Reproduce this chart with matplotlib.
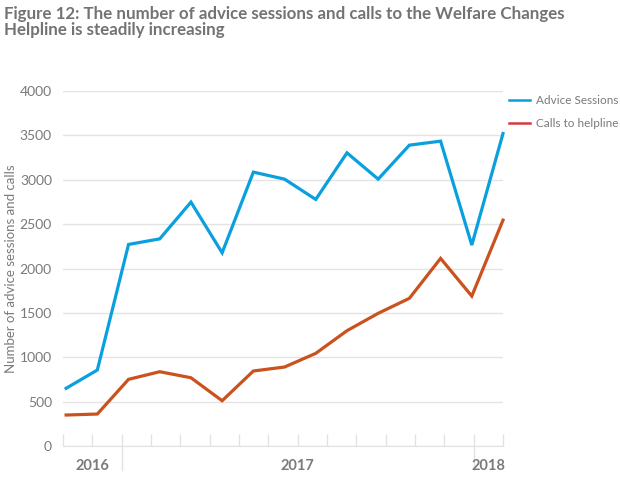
import numpy as np
import matplotlib
matplotlib.use("Agg")
import matplotlib.pyplot as plt
from matplotlib.lines import Line2D
import matplotlib.transforms as mtransforms

# ---- data ----
advice_sessions = [650, 856, 2271, 2334, 2748, 2177, 3086, 3007, 2778, 3303, 3007, 3390, 3435, 2264, 3521]
calls_helpline = [349, 360, 751, 837, 769, 510, 845, 890, 1044, 1299, 1495, 1664, 2114, 1689, 2545]
years = ["2016", "2017", "2018"]
year_counts = [2, 12, 1]
yticks = [0, 500, 1000, 1500, 2000, 2500, 3000, 3500, 4000]
title = "Figure 12: The number of advice sessions and calls to the Welfare Changes\nHelpline is steadily increasing"

plt.rcParams['font.family'] = ['Lato', 'DejaVu Sans']

BLUE = "#0AA0DE"
ORANGE = "#C9521F"
LEG_RED = "#D8383F"
GRID = "#E3E3E3"
TXT = "#7a7a7a"

fig = plt.figure(figsize=(6.2, 4.86), dpi=100)
ax = fig.add_axes([63/620, 40/486, 440/620, 355/486])

x = np.arange(len(advice_sessions))
ax.plot(x, advice_sessions, color=BLUE, lw=2.3, clip_on=False, solid_joinstyle='miter')
ax.plot(x, calls_helpline, color=ORANGE, lw=2.3, clip_on=False, solid_joinstyle='miter')

xmin, xmax = -0.1, 14.0
ax.set_xlim(xmin, xmax)
ax.set_ylim(0, 4000)
ax.set_yticks(yticks)
ax.set_yticklabels([str(v) for v in yticks], color=TXT, fontsize=10)
ax.grid(axis='y', color=GRID, lw=1)
ax.set_axisbelow(True)

ncat = sum(year_counts)
edges = np.linspace(xmin, xmax, ncat + 1)
ax.set_xticks(edges)
ax.set_xticklabels([])
ax.tick_params(axis='x', direction='in', length=9, color=GRID, width=1)
ax.tick_params(axis='y', length=0, pad=8)

for s in ['top', 'right', 'left']:
    ax.spines[s].set_visible(False)
ax.spines['bottom'].set_color(GRID)

trans = mtransforms.blended_transform_factory(ax.transData, ax.transAxes)
start = 0
for yr, n in zip(years, year_counts):
    lo, hi = edges[start], edges[start + n]
    ax.text((lo + hi) / 2, -0.055, yr, transform=trans, ha='center', va='center',
            fontsize=10.5, fontweight='bold', color=TXT)
    if start > 0:
        ax.plot([lo, lo], [0, -24/355], transform=trans, color=GRID, lw=1, clip_on=False)
    start += n

ax.set_ylabel("Number of advice sessions and calls", color=TXT, fontsize=9.5)
ax.yaxis.set_label_coords(-46/440, 0.5)

handles = [Line2D([], [], color=BLUE, lw=1.8), Line2D([], [], color=LEG_RED, lw=1.8)]
leg = fig.legend(handles, ["Advice Sessions", "Calls to helpline"], loc='upper left',
                 bbox_to_anchor=(509/620, 1 - 95/486), frameon=False, fontsize=8.5,
                 borderaxespad=0, borderpad=0,
                 handlelength=1.75, handletextpad=0.55, labelspacing=1.05)
for t in leg.get_texts():
    t.set_color(TXT)

fig.text(4/620, 1 - 6/486, title, ha='left', va='top', fontsize=12.2, fontweight='bold',
         color="#737373", linespacing=1.0)

fig.savefig("out.png", dpi=100)
